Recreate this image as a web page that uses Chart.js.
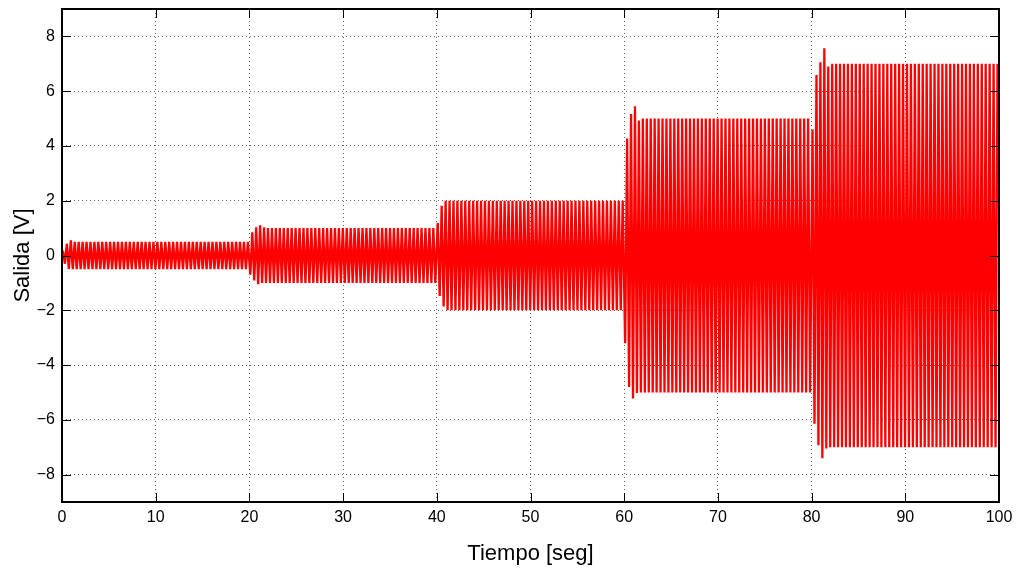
<!DOCTYPE html>
<html><head><meta charset="utf-8">
<script src="https://cdn.jsdelivr.net/npm/chart.js@4.4.0/dist/chart.umd.min.js"></script>
<style>html,body{margin:0;padding:0;background:#fff}#wrap{width:1016px;height:572px}</style>
</head><body><div id="wrap"><canvas id="c" width="1016" height="572"></canvas></div>
<script>
// ---- data ----
const stepTimes = [0, 20, 40, 60, 80];          // s, input amplitude changes
const endTime = 100;                             // s
const halfPeriod = 0.21;                         // s, half oscillation period (stripe spacing)
const steadyAmp = [0.5, 1.0, 2.0, 5.0, 7.0];     // V, steady-state amplitude per stage
// magnitudes of the first extremes after each step (transient), V
const transient0 = [0.18, 0.30, 0.43, 0.49, 0.55, 0.50];
const transient1 = [0.70, 0.85, 0.91, 1.03, 1.05, 1.10, 1.00, 1.03];
const transient2 = [1.19, 1.48, 1.82, 1.86, 2.00];
const transient3 = [3.20, 4.27, 4.80, 5.17, 5.22, 5.45, 5.02, 4.93];
const transient4 = [4.60, 6.14, 6.59, 6.93, 7.06, 7.40, 7.57, 7.05, 6.90, 7.00];
const transients = [transient0, transient1, transient2, transient3, transient4];
const xTicks = [0, 10, 20, 30, 40, 50, 60, 70, 80, 90, 100];
const yTicks = [-8, -6, -4, -2, 0, 2, 4, 6, 8];
const xTitle = 'Tiempo [seg]';
const yTitle = 'Salida [V]';

// ---- build the series of alternating extremes ----
const points = [{x: 0, y: 0}];
let sign = 1;
for (let s = 0; s < stepTimes.length; s++) {
  const tEnd = s + 1 < stepTimes.length ? stepTimes[s + 1] : endTime;
  const tr = transients[s];
  let j = 0;
  let t = stepTimes[s] + 0.1;
  while (t <= tEnd) {
    const mag = j < tr.length ? tr[j] : steadyAmp[s];
    points.push({x: t, y: sign * mag});
    sign = -sign;
    j++;
    t = stepTimes[s] + 0.1 + j * halfPeriod;
  }
}

const FONT = "'Liberation Sans', Arial, Helvetica, sans-serif";
const fmt = v => String(v).replace('-', '\u2212');

const boxPlugin = {
  id: 'box',
  afterDraw(chart) {
    const {ctx, chartArea: a, scales} = chart;
    ctx.save();
    ctx.strokeStyle = '#000';
    ctx.lineWidth = 1;
    const L = 9;
    ctx.beginPath();
    xTicks.forEach(v => {
      const px = Math.round(scales.x.getPixelForValue(v)) + 0.5;
      ctx.moveTo(px, a.bottom); ctx.lineTo(px, a.bottom - L);
      ctx.moveTo(px, a.top); ctx.lineTo(px, a.top + L);
    });
    yTicks.forEach(v => {
      const py = Math.round(scales.y.getPixelForValue(v)) + 0.5;
      ctx.moveTo(a.left, py); ctx.lineTo(a.left + L, py);
      ctx.moveTo(a.right, py); ctx.lineTo(a.right - L, py);
    });
    ctx.stroke();
    ctx.lineWidth = 2;
    ctx.strokeRect(a.left, a.top, a.right - a.left, a.bottom - a.top);
    ctx.restore();
  }
};

new Chart(document.getElementById('c'), {
  type: 'line',
  data: {datasets: [{
    data: points,
    borderColor: '#ff0000',
    borderWidth: 2.3,
    pointRadius: 0,
    tension: 0,
    fill: false,
    borderJoinStyle: 'bevel'
  }]},
  options: {
    responsive: false,
    animation: false,
    events: [],
    layout: {padding: {top: 9, right: 17, left: 0, bottom: 0}},
    plugins: {legend: {display: false}, tooltip: {enabled: false}},
    scales: {
      x: {
        type: 'linear', min: 0, max: 100, z: 1,
        afterBuildTicks: s => { s.ticks = xTicks.map(v => ({value: v})); },
        afterFit: s => { s.height = 70; s.paddingLeft = 0; s.paddingRight = 0; },
        grid: {drawTicks: false, lineWidth: 1,
               color: c => (c.tick && (c.tick.value === 0 || c.tick.value === 100)) ? 'rgba(0,0,0,0)' : 'rgba(60,60,60,0.8)'},
        border: {display: false, dash: [1, 3]},
        ticks: {font: {family: FONT, size: 16}, color: '#000', padding: 6, maxRotation: 0, autoSkip: false, callback: v => fmt(v)},
        title: {display: true, text: xTitle, color: '#000', font: {family: FONT, size: 22}, padding: {top: 0, bottom: 5}}
      },
      y: {
        type: 'linear', min: -9, max: 9, z: 1,
        afterBuildTicks: s => { s.ticks = yTicks.map(v => ({value: v})); },
        afterFit: s => { s.width = 62; s.paddingTop = 0; s.paddingBottom = 0; },
        grid: {drawTicks: false, lineWidth: 1, color: 'rgba(60,60,60,0.8)'},
        border: {display: false, dash: [1, 3]},
        ticks: {font: {family: FONT, size: 16}, color: '#000', padding: 7, autoSkip: false, callback: v => fmt(v)},
        title: {display: true, text: yTitle, color: '#000', font: {family: FONT, size: 22}, padding: {top: 10, bottom: 0}}
      }
    }
  },
  plugins: [boxPlugin]
});
</script>
</body></html>
